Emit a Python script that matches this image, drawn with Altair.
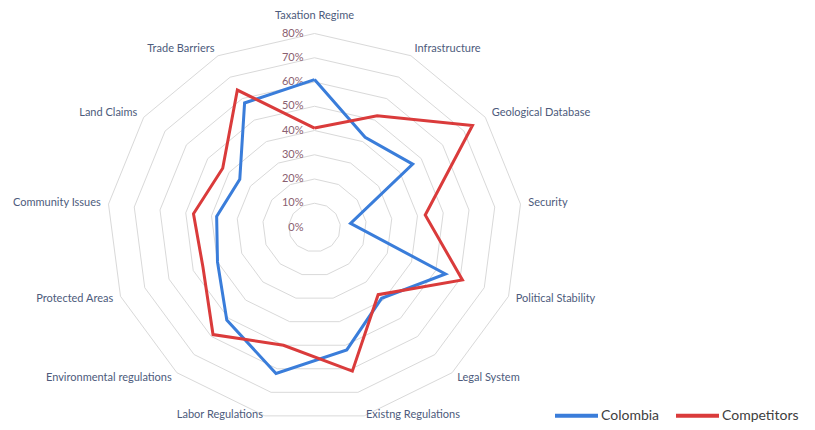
import math
import altair as alt
import pandas as pd

categories = [
    "Taxation Regime", "Infrastructure", "Geological Database", "Security",
    "Political Stability", "Legal System", "Existng Regulations",
    "Labor Regulations", "Environmental regulations", "Protected Areas",
    "Community Issues", "Land Claims", "Trade Barriers",
]
colombia = [61, 42, 46, 14, 54, 39, 52, 62, 51, 40, 38, 35, 58]
competitors = [41, 52, 74, 43, 61, 37, 61, 50, 59, 46, 47, 43, 64]
series_names = ["Colombia", "Competitors"]
series_colors = ["#3A7DDA", "#DA3B3B"]
levels = [0, 10, 20, 30, 40, 50, 60, 70, 80]
tick_labels = ["0%", "10%", "20%", "30%", "40%", "50%", "60%", "70%", "80%"]

n = len(categories)

# ---- tables built from the arrays ----
rows = []
for name, vals in zip(series_names, [colombia, competitors]):
    for i in range(n + 1):
        rows.append({"series": name, "idx": i, "value": vals[i % n]})
series_df = pd.DataFrame(rows)

grid_rows = []
for lv in levels[1:]:
    for i in range(n + 1):
        grid_rows.append({"level": lv, "idx": i})
grid_df = pd.DataFrame(grid_rows)

label_df = pd.DataFrame({"category": categories, "idx": list(range(n))})
tick_df = pd.DataFrame({"level": levels, "label": tick_labels})

# ---- geometry (plot-area scales) ----
W, H = 799, 414
CX, CY = 306.5, 219.5          # centre inside the view (px)
PX_X = 207.5 / 80               # px per unit horizontally
PX_Y = 194.0 / 80               # px per unit vertically
XMIN = -CX / PX_X
XMAX = XMIN + W / PX_X
YMAX = CY / PX_Y
YMIN = YMAX - H / PX_Y

xs = alt.Scale(domain=[XMIN, XMAX], nice=False, zero=False)
ys = alt.Scale(domain=[YMIN, YMAX], nice=False, zero=False)
X = alt.X("x:Q", scale=xs, axis=None)
Y = alt.Y("y:Q", scale=ys, axis=None)

ANG = f"datum.idx * 2 * PI / {n}"
FONT = "Lato"
LABEL_COLOR = "#4D5B7C"
TICK_COLOR = "#8A6070"

grid = (
    alt.Chart(grid_df)
    .transform_calculate(ang=ANG)
    .transform_calculate(x="datum.level * sin(datum.ang)", y="datum.level * cos(datum.ang)")
    .mark_line(color="#D9D9D9", strokeWidth=1)
    .encode(x=X, y=Y, detail="level:N", order="idx:Q")
)

ticks = (
    alt.Chart(tick_df)
    .transform_calculate(x="0", y="datum.level")
    .mark_text(align="right", baseline="middle", dx=-11, font=FONT, fontSize=11, color=TICK_COLOR)
    .encode(x=X, y=Y, text="label:N")
)

lines = (
    alt.Chart(series_df)
    .transform_calculate(ang=ANG)
    .transform_calculate(x="datum.value * sin(datum.ang)", y="datum.value * cos(datum.ang)")
    .mark_line(strokeWidth=3)
    .encode(
        x=X,
        y=Y,
        order="idx:Q",
        color=alt.Color(
            "series:N",
            scale=alt.Scale(domain=series_names, range=series_colors),
            legend=alt.Legend(
                title=None,
                orient="none",
                legendX=545,
                legendY=384,
                direction="horizontal",
                symbolType="stroke",
                symbolStrokeWidth=4,
                symbolSize=1849,
                labelFontSize=14,
                labelFont=FONT,
                labelColor="#404040",
                labelOffset=1,
                columnPadding=8,
            ),
        ),
    )
)


def cat_labels(filt, align, dy=0):
    return (
        alt.Chart(label_df)
        .transform_calculate(ang=ANG)
        .transform_calculate(
            x="83 * sin(datum.ang)", y="83 * cos(datum.ang)",
            s="sin(datum.ang)", c="cos(datum.ang)",
        )
        .transform_filter(filt)
        .mark_text(align=align, baseline="middle", dy=dy, font=FONT, fontSize=11, color=LABEL_COLOR)
        .encode(x=X, y=Y, text="category:N")
    )


labels = [
    cat_labels("abs(datum.s) < 0.05", "center", -10),
    cat_labels("datum.s >= 0.05 && datum.c > -0.9", "left"),
    cat_labels("datum.s >= 0.05 && datum.c <= -0.9", "left", -8),
    cat_labels("datum.s <= -0.05 && datum.c > -0.9", "right"),
    cat_labels("datum.s <= -0.05 && datum.c <= -0.9", "right", -8),
]

chart = (
    alt.layer(grid, ticks, lines, *labels)
    .properties(width=W, height=H, padding=0, autosize="none")
    .configure_view(stroke=None)
)

chart.save("out.html", embed_options={"renderer": "svg", "actions": False})
